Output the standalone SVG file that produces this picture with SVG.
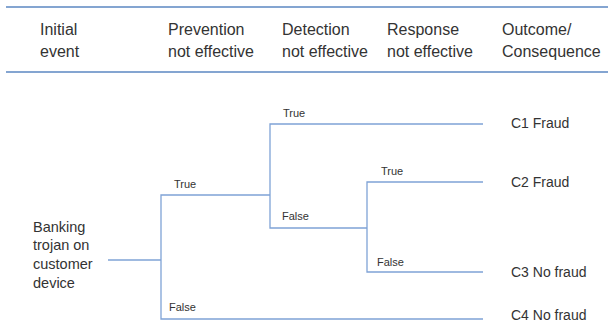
<svg xmlns="http://www.w3.org/2000/svg" width="611" height="324" viewBox="0 0 611 324">
<style>
text{font-family:"Liberation Sans",Arial,sans-serif;fill:#333}
.h{font-size:16px}
.o{font-size:14px}
.b{font-size:11px}
.l{font-size:14.5px}
.rule{stroke:#5b87c2;stroke-width:1.5;fill:none}
.c{stroke:#7fa3d6;stroke-width:1.3;fill:none}
</style>
<rect width="611" height="324" fill="#fff"/>
<g id="header">
<line class="rule" x1="6" y1="7" x2="608" y2="7"/>
<line class="rule" x1="6" y1="72" x2="608" y2="72"/>
<text class="h" x="40" y="35">Initial</text><text class="h" x="40" y="57">event</text>
<text class="h" x="168" y="35">Prevention</text><text class="h" x="168" y="57">not effective</text>
<text class="h" x="282" y="35">Detection</text><text class="h" x="282" y="57">not effective</text>
<text class="h" x="387" y="35">Response</text><text class="h" x="387" y="57">not effective</text>
<text class="h" x="502" y="35">Outcome/</text><text class="h" x="502" y="57">Consequence</text>
</g>
<g id="connectors">
<path class="c" d="M108 260H161"/>
<path class="c" d="M270 195H161V319H483"/>
<path class="c" d="M483 124H270V228H367"/>
<path class="c" d="M483 182H367V272H483"/>
</g>
<g id="initial">
<text class="l" x="33" y="232">Banking</text>
<text class="l" x="33" y="250">trojan on</text>
<text class="l" x="33" y="269">customer</text>
<text class="l" x="33" y="288">device</text>
</g>
<g id="labels">
<text class="b" x="174" y="188">True</text>
<text class="b" x="169" y="311">False</text>
<text class="b" x="283" y="117">True</text>
<text class="b" x="282" y="220">False</text>
<text class="b" x="381" y="175">True</text>
<text class="b" x="377" y="266">False</text>
</g>
<g id="c1"><text class="o" x="511" y="128">C1 Fraud</text></g>
<g id="c2"><text class="o" x="511" y="187">C2 Fraud</text></g>
<g id="c3"><text class="o" x="511" y="277">C3 No fraud</text></g>
<g id="c4"><text class="o" x="511" y="320">C4 No fraud</text></g>
</svg>
